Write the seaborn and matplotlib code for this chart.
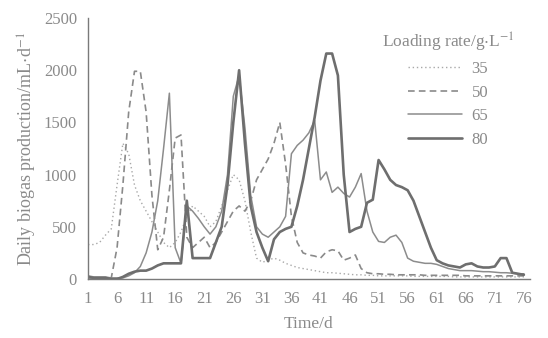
import matplotlib
matplotlib.use("Agg")
import matplotlib.pyplot as plt
import numpy as np
import pandas as pd
import seaborn as sns

days = list(range(1, 77))

rate_35 = [330, 330, 350, 420, 480, 900, 1300, 1200, 900, 750,
           650, 550, 450, 350, 300, 350, 450, 600, 700, 650,
           600, 500, 550, 700, 850, 1000, 950, 750, 450, 200,
           160, 180, 200, 180, 150, 130, 110, 100, 90, 80,
           70, 60, 60, 55, 50, 45, 40, 40, 35, 35,
           30, 30, 30, 30, 30, 30, 25, 25, 25, 25,
           25, 25, 25, 20, 20, 20, 20, 20, 20, 20,
           20, 20, 20, 20, 20, 20]

rate_50 = [0, 0, 0, 0, 10, 300, 900, 1600, 1990, 1990,
           1600, 800, 280, 400, 850, 1350, 1380, 400, 300, 350,
           400, 300, 350, 450, 550, 650, 700, 650, 750, 950,
           1050, 1150, 1300, 1500, 1100, 600, 350, 250, 230, 220,
           200, 260, 280, 270, 180, 200, 230, 100, 60, 50,
           50, 45, 45, 40, 40, 40, 40, 40, 35, 35,
           35, 35, 35, 35, 35, 30, 30, 30, 30, 30,
           30, 30, 30, 30, 30, 30]

rate_65 = [30, 20, 20, 20, 10, 10, 10, 30, 60, 120,
           250, 450, 750, 1250, 1780, 300, 150, 700, 650, 580,
           500, 430, 500, 650, 1000, 1750, 1950, 1450, 800, 500,
           430, 400, 450, 500, 600, 1200, 1280, 1330, 1400, 1520,
           950, 1025, 830, 880, 820, 785, 880, 1010, 650, 450,
           360, 350, 400, 420, 350, 200, 170, 160, 150, 150,
           140, 120, 100, 90, 80, 80, 80, 75, 70, 70,
           65, 60, 60, 55, 50, 50]

rate_80 = [20, 10, 10, 10, 0, 0, 20, 50, 70, 80,
           80, 100, 130, 150, 150, 150, 150, 750, 200, 200,
           200, 200, 350, 500, 900, 1500, 2000, 1300, 700, 450,
           300, 170, 380, 450, 480, 500, 700, 950, 1250, 1550,
           1900, 2160, 2160, 1950, 1000, 450, 480, 500, 730, 760,
           1140, 1050, 950, 900, 880, 850, 750, 600, 450, 300,
           180, 150, 130, 120, 110, 140, 150, 120, 110, 110,
           120, 200, 200, 60, 50, 40]

labels = ["35", "50", "65", "80"]
x_ticks = list(range(1, 77, 5))
y_ticks = [0, 500, 1000, 1500, 2000, 2500]

sns.set_style("white")
plt.rcParams["font.family"] = ["Liberation Serif", "DejaVu Serif"]
plt.rcParams["mathtext.fontset"] = "stix"

ink = "#7a7a7a"
text_grey = "#8a8a8a"
styles = {
    "35": dict(color="#a8a8a8", linestyle=(0, (1, 2)), lw=1.0),
    "50": dict(color="#8a8a8a", linestyle=(0, (4, 2.5)), lw=1.2),
    "65": dict(color="#8c8c8c", linestyle="-", lw=1.1),
    "80": dict(color="#6e6e6e", linestyle="-", lw=1.9),
}

fig = plt.figure(figsize=(5.48, 3.38), dpi=100)
ax = fig.add_axes([0.1606, 0.1746, 0.806, 0.772])

for lab, vals in zip(labels, [rate_35, rate_50, rate_65, rate_80]):
    sns.lineplot(x=days, y=vals, ax=ax, label=lab, **styles[lab])

ax.set_xlim(1, 77)
ax.set_ylim(0, 2500)
ax.set_xticks(x_ticks)
ax.set_yticks(y_ticks)
ax.tick_params(direction="in", length=4, width=0.8, colors=ink, labelsize=12,
               labelcolor=text_grey)
ax.tick_params(axis="x", pad=9)
ax.tick_params(axis="y", pad=8)
for side in ["top", "right"]:
    ax.spines[side].set_visible(False)
for side in ["left", "bottom"]:
    ax.spines[side].set_color(ink)
    ax.spines[side].set_linewidth(1.0)

ax.set_xlabel("Time/d", fontsize=12.5, color=text_grey, labelpad=6)
ax.set_ylabel("Daily biogas production/mL$\\cdot$d$^{-1}$", fontsize=13,
              color=text_grey, labelpad=3)

leg = ax.legend(title="Loading rate/g$\\cdot$L$^{-1}$", frameon=False, fontsize=12,
                title_fontsize=12.5, loc="upper right", bbox_to_anchor=(1.0, 1.01),
                handlelength=3.2, handletextpad=0.6, labelspacing=0.45)
for t in leg.get_texts():
    t.set_color(text_grey)
leg.get_title().set_color(text_grey)

fig.savefig("out.png", dpi=100)
